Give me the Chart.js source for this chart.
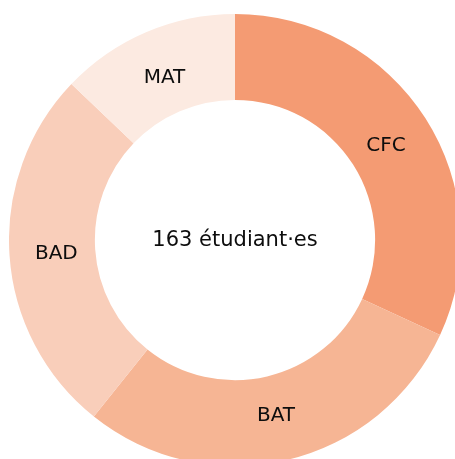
<!DOCTYPE html>
<html>
<head>
<meta charset="utf-8">
<script src="https://cdn.jsdelivr.net/npm/chart.js@4"></script>
<style>
  html, body { margin: 0; padding: 0; background: #fff; overflow: hidden; }
  #wrap { position: relative; width: 455px; height: 459px; overflow: hidden; }
  #donut { position: absolute; left: 9px; top: 14px; }
</style>
</head>
<body>
<div id="wrap"><canvas id="donut" width="452" height="452"></canvas></div>
<script>
var categories = ['CFC', 'BAT', 'BAD', 'MAT'];
var students = [52, 47, 43, 21];
var colours = ['#f49b73', '#f6b594', '#f9ceba', '#fceae1'];
var centreLabel = '163 étudiant·es';

var labelFont = '20px "DejaVu Sans", sans-serif';

// etiquettes dans les parts + texte au centre
var donutLabels = {
    id: 'donutLabels',
    afterDatasetsDraw: function (chart) {
        var ctx = chart.ctx;
        var meta = chart.getDatasetMeta(0);
        ctx.save();
        ctx.fillStyle = '#0d0d0d';
        ctx.textAlign = 'center';
        ctx.textBaseline = 'middle';
        ctx.font = labelFont;
        meta.data.forEach(function (arc, i) {
            var p = arc.getProps(['x', 'y', 'startAngle', 'endAngle', 'innerRadius', 'outerRadius'], true);
            var a = (p.startAngle + p.endAngle) / 2;
            var r = (p.innerRadius + p.outerRadius) / 2 - 4;
            ctx.fillText(categories[i], p.x + Math.cos(a) * r, p.y + Math.sin(a) * r + 2);
        });
        var c = meta.data[0];
        ctx.font = '21px "DejaVu Sans", sans-serif';
        ctx.fillText(centreLabel, c.x, c.y + 1);
        ctx.restore();
    }
};

var ctx = document.getElementById('donut').getContext('2d');
var myChart = new Chart(ctx, {
    type: 'doughnut',
    data: {
        labels: categories,
        datasets: [{
            data: students,
            backgroundColor: colours,
            borderWidth: 0,
            hoverOffset: 0,
            offset: 0
        }]
    },
    options: {
        responsive: false,
        animation: false,
        cutout: '62%',
        layout: { padding: 0 },
        plugins: {
            legend: { display: false },
            tooltip: { enabled: false }
        }
    },
    plugins: [donutLabels]
});
</script>
</body>
</html>
